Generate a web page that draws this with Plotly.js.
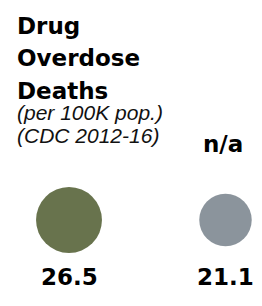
<!DOCTYPE html>
<html>
<head>
<meta charset="utf-8">
<script src="https://cdn.plot.ly/plotly-3.0.1.min.js"></script>
<style>
html,body{margin:0;padding:0;background:#fff;}
#chart{width:262px;height:306px;}
</style>
</head>
<body>
<div id="chart"></div>
<script>
// ---- data ----
const positions = [0, 1];
const values = [26.5, 21.1];
const valueLabels = ['26.5', '21.1'];
const headerLabels = ['', 'n/a'];
const colors = ['#68734D', '#8B949C'];
const titleLines = ['Drug', 'Overdose', 'Deaths'];
const subtitleLines = ['(per 100K pop.)', '(CDC 2012-16)'];

const W = 262, H = 306;
const py = px => 1 - px / H;

const boldFont = {family: 'DejaVu Sans', size: 23, color: '#000', weight: 'bold'};
const italicFont = {family: 'Liberation Sans', size: 21, color: '#111', style: 'italic'};

const annotations = [];
const titleCenters = [25.5, 58, 90.5];
titleLines.forEach((t, i) => annotations.push({
  text: '<b>' + t + '</b>', xref: 'paper', yref: 'paper', x: 16 / W, y: py(titleCenters[i]),
  xanchor: 'left', yanchor: 'middle', showarrow: false, borderpad: 0, font: boldFont
}));
const subCenters = [112.5, 135];
subtitleLines.forEach((t, i) => annotations.push({
  text: '<i>' + t + '</i>', xref: 'paper', yref: 'paper', x: 16 / W, y: py(subCenters[i]),
  xanchor: 'left', yanchor: 'middle', showarrow: false, borderpad: 0, font: italicFont
}));
headerLabels.forEach((t, i) => { if (t) annotations.push({
  text: '<b>' + t + '</b>', xref: 'x', yref: 'paper', x: positions[i] - 0.015, y: py(143.5),
  xanchor: 'center', yanchor: 'middle', showarrow: false, borderpad: 0, font: boldFont
}); });
valueLabels.forEach((t, i) => annotations.push({
  text: '<b>' + t + '</b>', xref: 'x', yref: 'paper', x: positions[i], y: py(277),
  xanchor: 'center', yanchor: 'middle', showarrow: false, borderpad: 0, font: boldFont
}));

const trace = {
  type: 'scatter', mode: 'markers',
  x: positions, y: positions.map(() => 0),
  marker: {size: values, sizemode: 'diameter', sizeref: 0.402, color: colors, opacity: 1, line: {width: 0}},
  hoverinfo: 'skip'
};

const layout = {
  width: W, height: H,
  margin: {l: 0, r: 0, t: 0, b: 0},
  paper_bgcolor: '#fff', plot_bgcolor: '#fff',
  showlegend: false,
  xaxis: {range: [-0.4409, 1.2333], visible: false, fixedrange: true},
  yaxis: {range: [-1, 2.559], visible: false, fixedrange: true},
  annotations: annotations
};

Plotly.newPlot('chart', [trace], layout, {displayModeBar: false, staticPlot: true});
</script>
</body>
</html>
